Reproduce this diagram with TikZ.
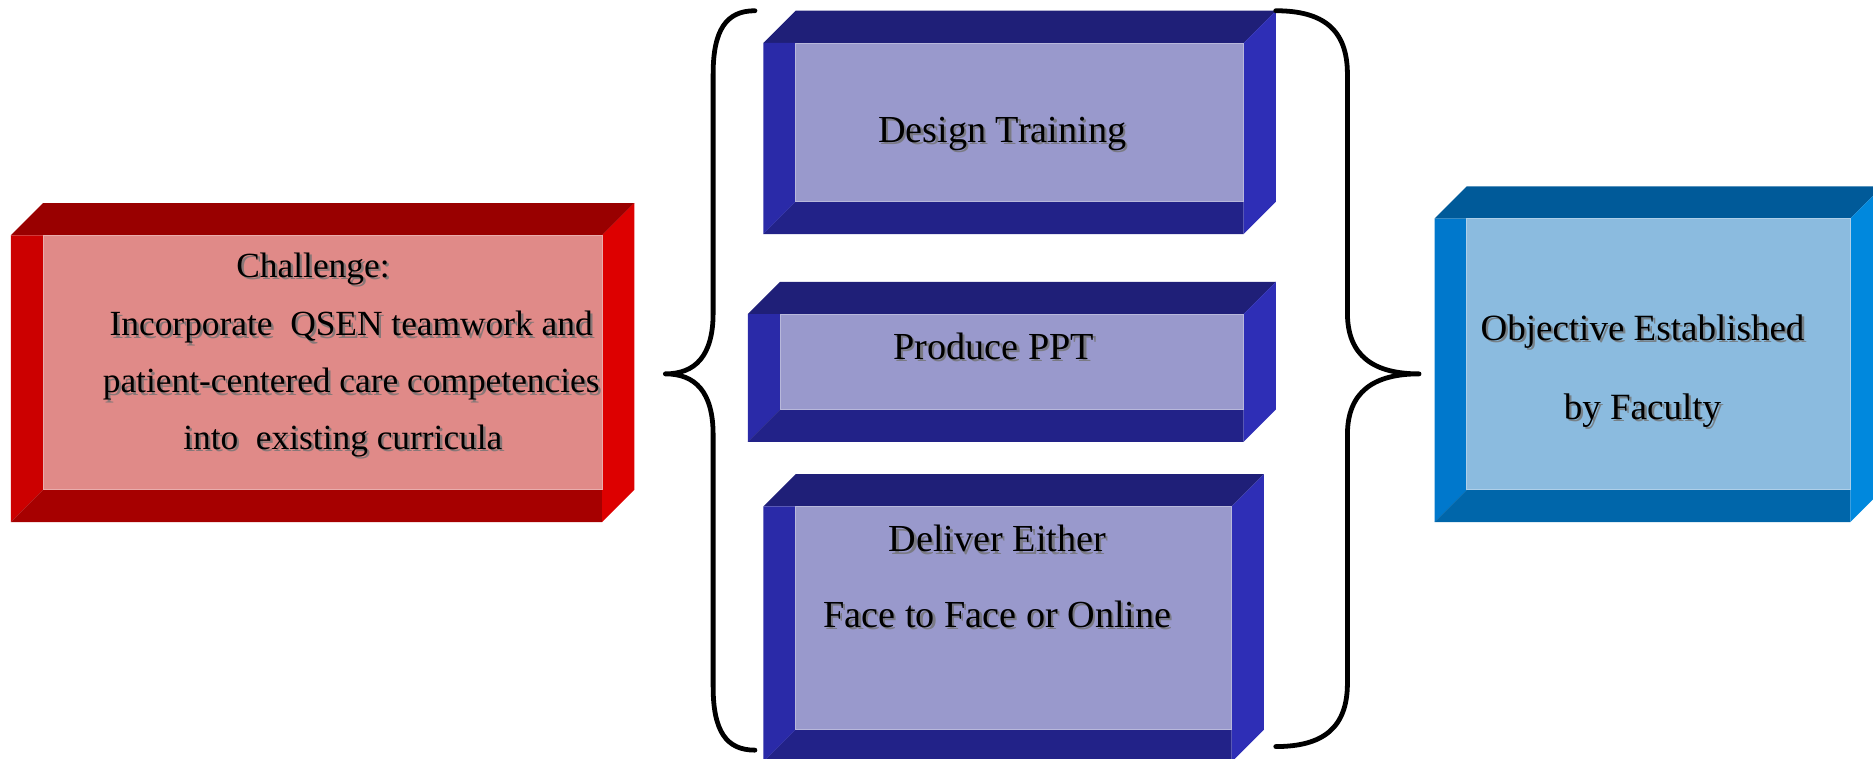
\documentclass[tikz,border=0pt]{standalone}
\usepackage{fontspec}
\setmainfont{Liberation Serif}
\definecolor{rTop}{HTML}{990000}
\definecolor{rBot}{HTML}{A60000}
\definecolor{rLeft}{HTML}{CC0000}
\definecolor{rRight}{HTML}{DD0000}
\definecolor{rFace}{HTML}{E08A88}
\definecolor{bTop}{HTML}{1F1F78}
\definecolor{bBot}{HTML}{222288}
\definecolor{bLeft}{HTML}{2A2AA8}
\definecolor{bRight}{HTML}{2E2EB6}
\definecolor{bFace}{HTML}{9999CC}
\definecolor{cTop}{HTML}{005A99}
\definecolor{cBot}{HTML}{0066AA}
\definecolor{cLeft}{HTML}{0078CC}
\definecolor{cRight}{HTML}{0088DD}
\definecolor{cFace}{HTML}{8BBBDF}
% bevelled box: L, T, R, B, colour prefix
\newcommand\bevbox[5]{%
  \fill[#5Top] (#1,#2+27) -- (#1+27,#2) -- (#3,#2) -- (#3-27,#2+27) -- cycle;
  \fill[#5Left] (#1,#2+27) -- (#1+27,#2+27) -- (#1+27,#4-27) -- (#1,#4) -- cycle;
  \fill[#5Bot] (#1,#4) -- (#1+27,#4-27) -- (#3-27,#4-27) -- (#3-27,#4) -- cycle;
  \fill[#5Right] (#3-27,#2+27) -- (#3,#2) -- (#3,#4-27) -- (#3-27,#4) -- cycle;
  \fill[#5Face,draw=#5Face!70!white,line width=0.4pt] (#1+27,#2+27) rectangle (#3-27,#4-27);
}
\newcommand\stxt[4]{%
  \node[lbl,#4,text=black!55,opacity=0.8,xshift=1pt,yshift=-1pt] at (#2) {#3};
  \node[lbl,#4] (#1) at (#2) {#3};}
\tikzset{
  lbl/.style={anchor=base,inner sep=0pt,text=black},
  fr/.style={font=\fontsize{14.8}{17}\selectfont},
  fm/.style={font=\fontsize{16}{19}\selectfont},
  fb/.style={font=\fontsize{15.5}{18}\selectfont},
  bracestyle/.style={line width=2pt,line cap=round,line join=round,draw=black}
}
\begin{document}
\begin{tikzpicture}[x=0.5pt,y=-0.5pt]
\useasboundingbox (0,0) rectangle (1568,635);
\clip (0,0) rectangle (1568,635);
% boxes
\bevbox{9}{170}{531}{437}{r}
\bevbox{639}{9}{1068}{196}{b}
\bevbox{626}{236}{1068}{370}{b}
\bevbox{639}{397}{1058}{638}{b}
\bevbox{1201}{156}{1576}{437}{c}
% texts
\stxt{ch}{262,232}{Challenge:}{fr}
\stxt{c1}{294,281}{Incorporate\ \ QSEN teamwork and}{fr}
\stxt{c2}{294,329}{patient-centered care competencies}{fr}
\stxt{c3}{287,376}{into\ \ existing curricula}{fr}
\stxt{dt}{839,119}{Design Training}{fm}
\stxt{pp}{832,301}{Produce PPT}{fm}
\stxt{de}{835,462}{Deliver Either}{fm}
\stxt{ff}{835,525}{Face to Face or Online}{fm}
\stxt{ob}{1375,285}{Objective Established}{fb}
\stxt{bf}{1375,351}{by Faculty}{fb}
% left brace
\draw[bracestyle] (632,9) .. controls (608,9) and (597,25) .. (597,62)
  -- (597,262) .. controls (597,298) and (582,313) .. (557,313)
  .. controls (582,313) and (597,328) .. (597,364)
  -- (597,575) .. controls (597,612) and (608,628) .. (632,628);
% right brace
\draw[bracestyle] (1068,9) .. controls (1108,9) and (1128,25) .. (1128,62)
  -- (1128,262) .. controls (1128,298) and (1150,313) .. (1188,313)
  .. controls (1150,313) and (1128,328) .. (1128,364)
  -- (1128,572) .. controls (1128,609) and (1108,625) .. (1068,625);
\end{tikzpicture}
\end{document}
